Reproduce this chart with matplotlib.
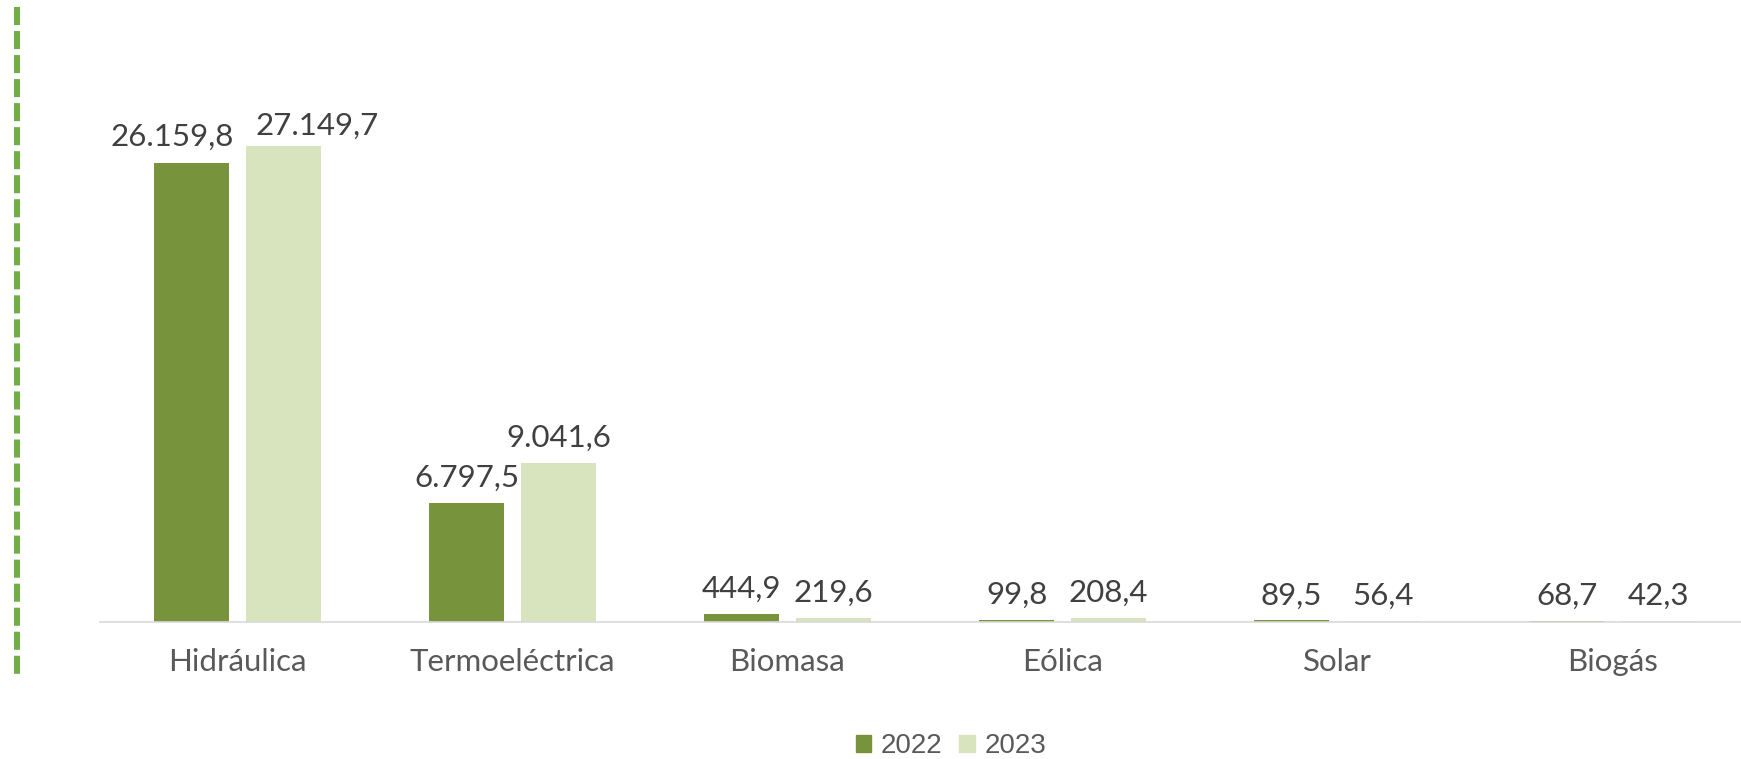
import numpy as np
import matplotlib.pyplot as plt
from matplotlib.lines import Line2D
from matplotlib.patches import Patch

categories = ['Hidráulica', 'Termoeléctrica', 'Biomasa', 'Eólica', 'Solar', 'Biogás']
values_2022 = [26159.8, 6797.5, 444.9, 99.8, 89.5, 68.7]
values_2023 = [27149.7, 9041.6, 219.6, 208.4, 56.4, 42.3]

c2022 = '#77933C'
c2023 = '#D7E4BD'

plt.rcParams['font.family'] = ['Lato', 'DejaVu Sans']
plt.rcParams['lines.scale_dashes'] = False

W, H = 1741, 759
fig = plt.figure(figsize=(W / 100, H / 100), dpi=100)

# plot area: category spacing ~275px, baseline at y=622px
ax = fig.add_axes([100 / W, (H - 622) / H, 1650 / W, 592 / H])

x = np.arange(len(categories))
bw = 0.27
off = 0.167
b1 = ax.bar(x - off, values_2022, bw, color=c2022, label='2022')
b2 = ax.bar(x + off, values_2023, bw, color=c2023, label='2023')


def es_fmt(v):
    s = f'{v:,.1f}'
    return s.replace(',', 'X').replace('.', ',').replace('X', '.')


# excel pushes the two Hidráulica labels apart so they don't collide
nudge = {('2022', 0): (-14, 9), ('2023', 0): (24, 4)}

for bars, vals, name in [(b1, values_2022, '2022'), (b2, values_2023, '2023')]:
    for i, (rect, v) in enumerate(zip(bars, vals)):
        dx, dy = nudge.get((name, i), (0, 8))
        ax.annotate(es_fmt(v), (rect.get_x() + rect.get_width() / 2, rect.get_height()),
                    xytext=(dx, dy), textcoords='offset points',
                    ha='center', va='bottom', fontsize=22.5, color='#404040')

ax.set_xlim(-0.5, 5.5)
ax.set_ylim(0, 592 / (459 / 26159.8))
ax.set_xticks(x)
ax.set_xticklabels(categories, fontsize=22.5, color='#595959')
ax.tick_params(axis='x', length=0, pad=19)
ax.set_yticks([])
for s in ['top', 'right', 'left']:
    ax.spines[s].set_visible(False)
ax.spines['bottom'].set_color('#D9D9D9')
ax.spines['bottom'].set_linewidth(1.2)

# legend under the chart
handles = [Patch(color=c2022, label='2022'), Patch(color=c2023, label='2023')]
fig.legend(handles=handles, loc='center', bbox_to_anchor=(951 / W, 1 - 746 / H),
           ncol=2, frameon=False, handlelength=0.55, handleheight=0.55,
           handletextpad=0.35, columnspacing=0.6,
           prop={'family': 'Liberation Sans', 'size': 20}, labelcolor='#595959')

# dashed green bar on the left edge
fig.add_artist(Line2D([17 / W, 17 / W], [1 - 7 / H, 1 - 677 / H], transform=fig.transFigure,
                      color='#70AD47', linewidth=4.3, linestyle=(0, (13, 4.3)),
                      solid_capstyle='butt', dash_capstyle='butt'))

fig.savefig('out.png', dpi=100)
